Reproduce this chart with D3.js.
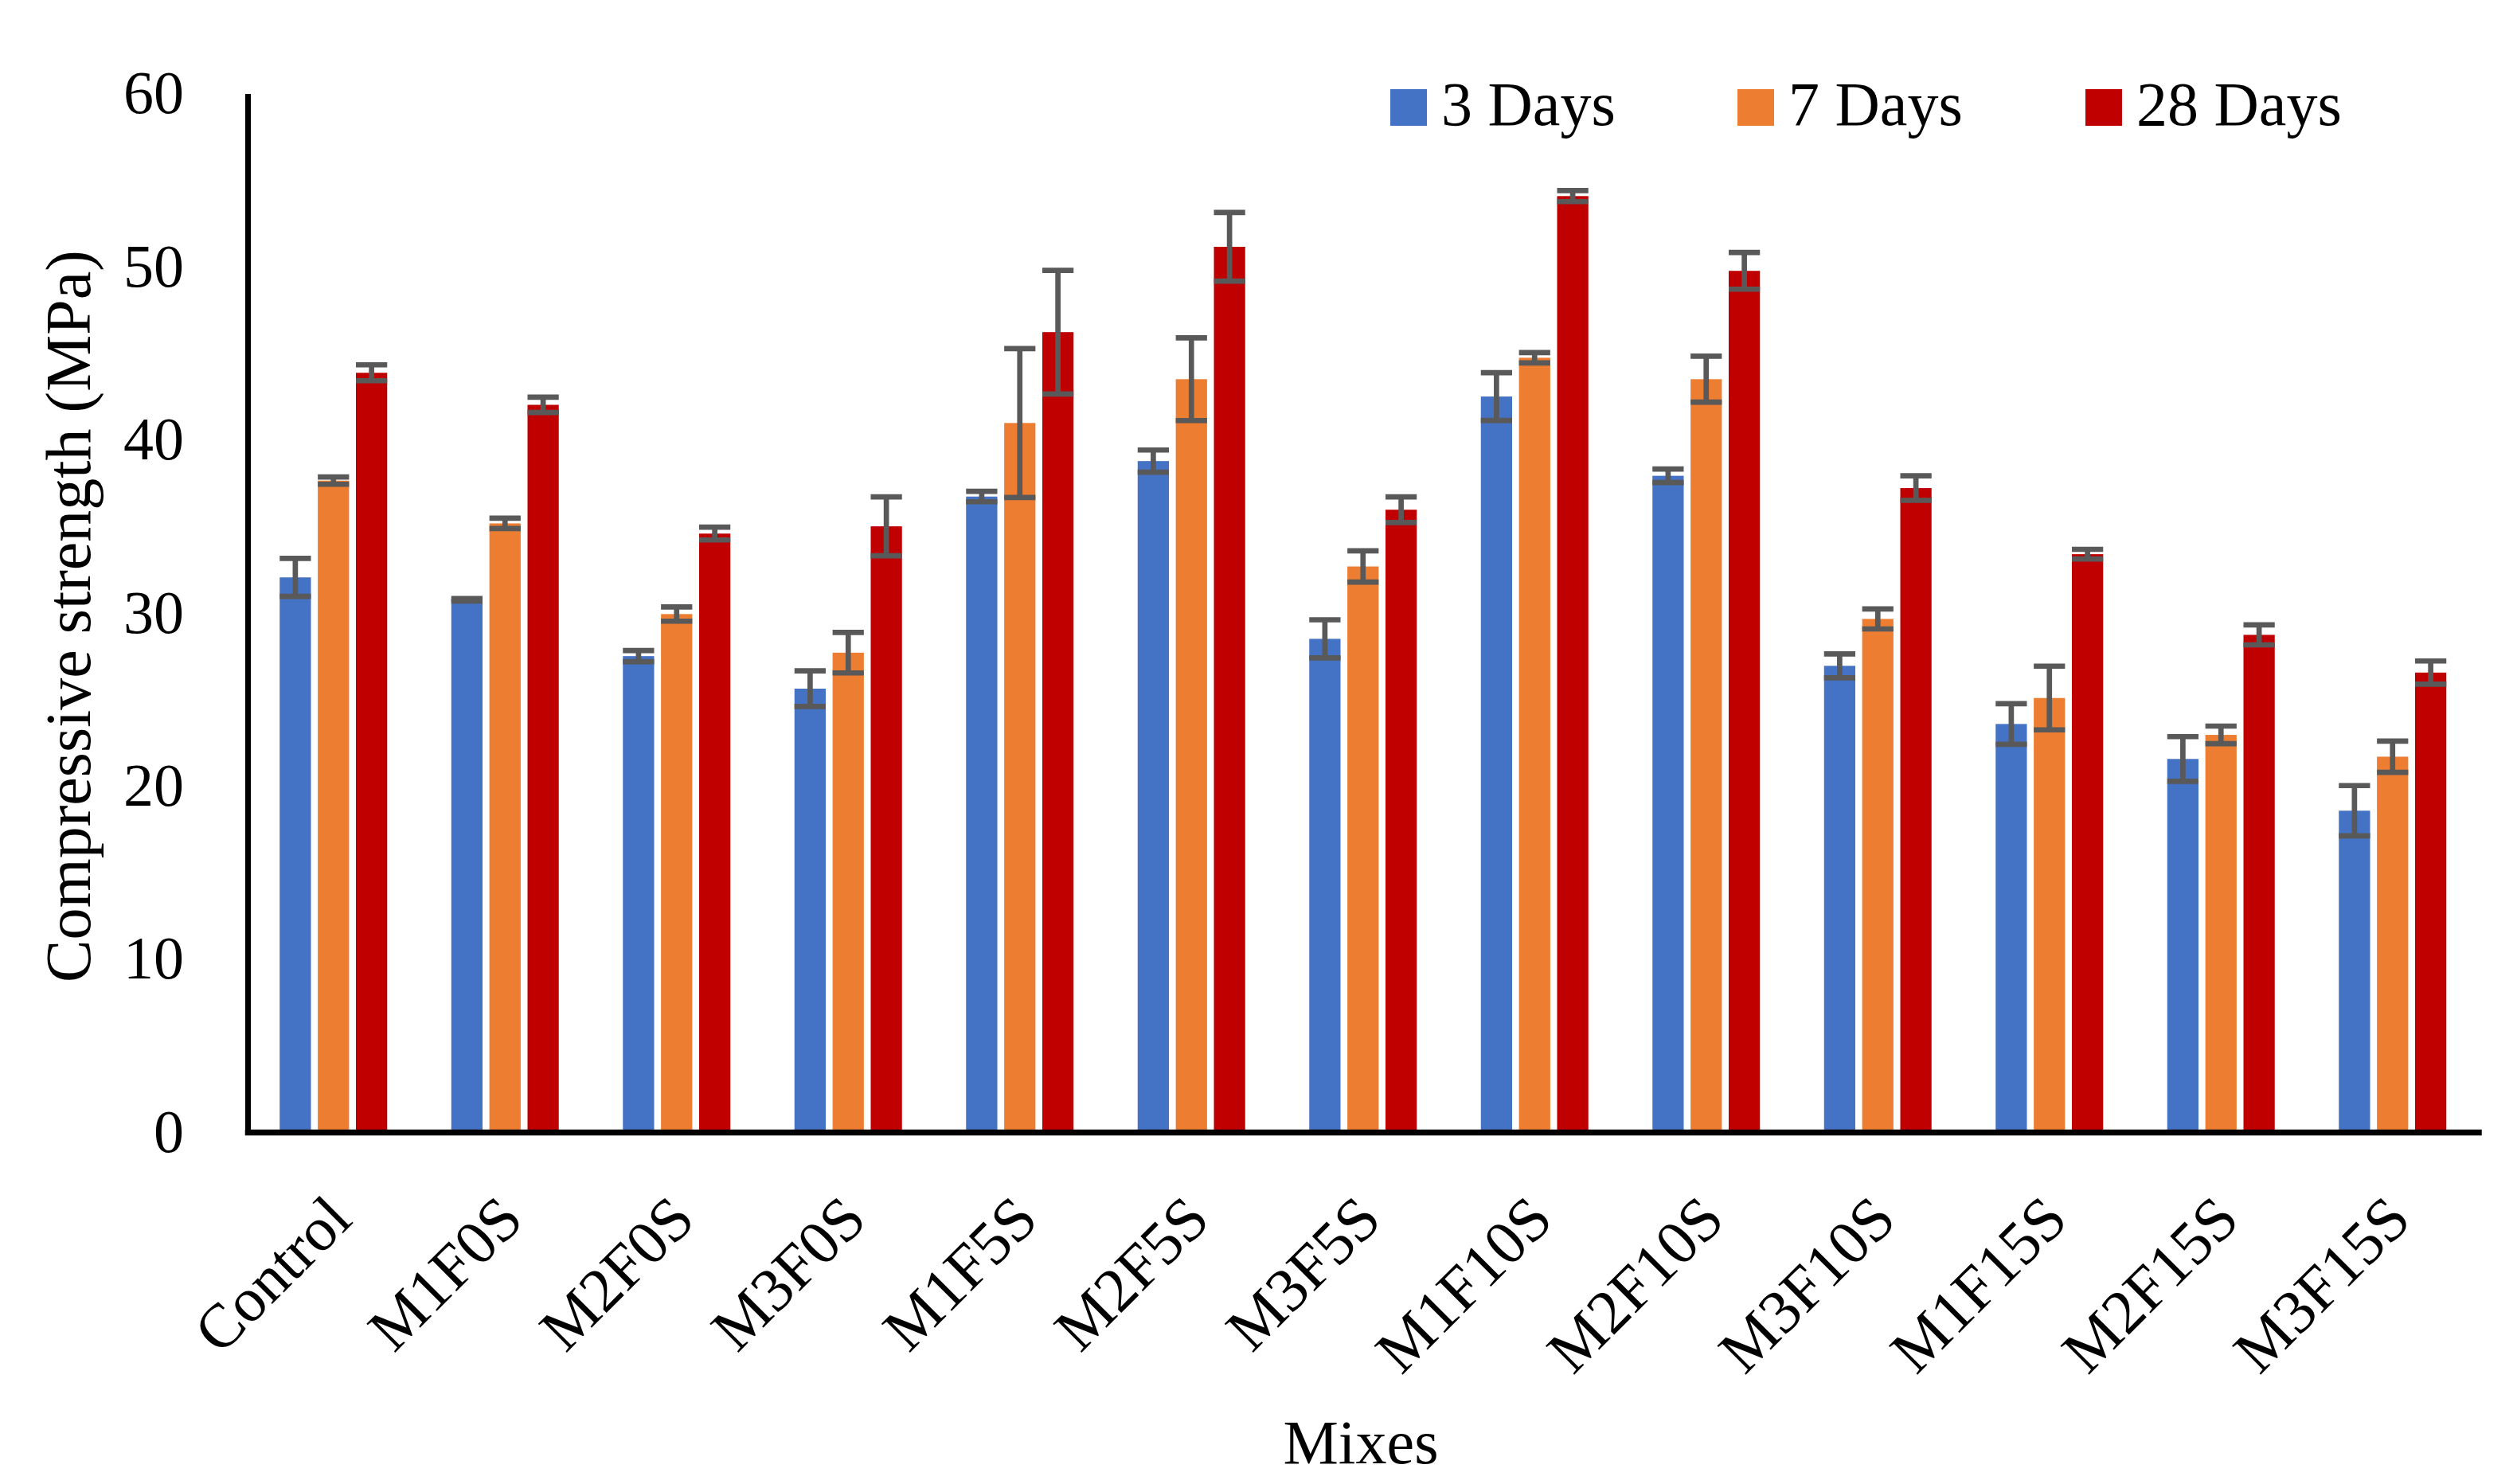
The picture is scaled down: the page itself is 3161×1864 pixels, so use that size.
<!DOCTYPE html>
<html>
<head>
	<meta charset="utf-8">
	<title>Compressive strength of mixes</title>
	<script src="https://cdn.jsdelivr.net/npm/d3@7/dist/d3.min.js"></script>
	<style>
		body { margin: 0; background: #fff; }
		svg { display: block; }
		text { font-family: "Liberation Serif", "Times New Roman", serif; fill: #000; }
	</style>
</head>
<body>
<div id="chart"></div>
<script>
// data
var mixes = ["Control", "M1F0S", "M2F0S", "M3F0S", "M1F5S", "M2F5S", "M3F5S",
	"M1F10S", "M2F10S", "M3F10S", "M1F15S", "M2F15S", "M3F15S"];
var seriesNames = ["3 Days", "7 Days", "28 Days"];

var days3  = [32.05, 30.75, 27.50, 25.62, 36.72, 38.77, 28.50, 42.50, 37.92, 26.94, 23.58, 21.56, 18.57];
var err3   = [1.10, 0.07, 0.32, 1.03, 0.30, 0.64, 1.10, 1.38, 0.39, 0.69, 1.17, 1.29, 1.45];
var days7  = [37.64, 35.17, 29.93, 27.70, 40.97, 43.50, 32.68, 44.74, 43.50, 29.65, 25.08, 22.95, 21.69];
var err7   = [0.21, 0.30, 0.41, 1.17, 4.30, 2.39, 0.90, 0.30, 1.33, 0.58, 1.84, 0.51, 0.90];
var days28 = [43.87, 42.02, 34.58, 35.00, 46.22, 51.15, 35.96, 54.08, 49.76, 37.21, 33.39, 28.73, 26.55];
var err28  = [0.46, 0.44, 0.37, 1.70, 3.57, 1.98, 0.74, 0.32, 1.06, 0.71, 0.28, 0.58, 0.67];

var yTicks = [0, 10, 20, 30, 40, 50, 60];
var colors = ["#4472C4", "#ED7D31", "#C00000"];

var values = [days3, days7, days28];
var errors = [err3, err7, err28];

//svg width and height
var width = 3161,
	height = 1864;

var svg = d3.select("#chart")
	.append("svg")
	.attr("width", width)
	.attr("height", height);

var plotLeft = 311, plotRight = 3112.5, plotTop = 117.6, plotBottom = 1422;

var y = d3.scaleLinear().domain([0, 60]).range([plotBottom, plotTop]);
var x0 = d3.scaleBand().domain(mixes).range([plotLeft, plotRight]).padding(0);
var x1 = d3.scaleBand().domain(seriesNames).range([0, 135]).paddingInner(0.18);
var groupOffset = (x0.bandwidth() - 135) / 2;

// flat list of bars
var bars = [];
mixes.forEach(function(m, i) {
	seriesNames.forEach(function(s, j) {
		bars.push({ mix: m, series: s, idx: j, value: values[j][i], err: errors[j][i] });
	});
});

var barG = svg.append("g");
barG.selectAll("rect")
	.data(bars)
	.enter().append("rect")
	.attr("x", function(d) { return x0(d.mix) + groupOffset + x1(d.series); })
	.attr("y", function(d) { return y(d.value); })
	.attr("width", x1.bandwidth())
	.attr("height", function(d) { return y(0) - y(d.value); })
	.attr("fill", function(d) { return colors[d.idx]; });

// error bars
var errG = svg.append("g")
	.attr("stroke", "#595959")
	.attr("stroke-width", 6.7)
	.attr("fill", "none");

bars.forEach(function(d) {
	var cx = x0(d.mix) + groupOffset + x1(d.series) + x1.bandwidth() / 2;
	var half = x1.bandwidth() / 2;
	var yHi = y(d.value + d.err), yLo = y(d.value - d.err);
	errG.append("line").attr("x1", cx).attr("x2", cx).attr("y1", yHi).attr("y2", yLo);
	errG.append("line").attr("x1", cx - half).attr("x2", cx + half).attr("y1", yHi).attr("y2", yHi);
	errG.append("line").attr("x1", cx - half).attr("x2", cx + half).attr("y1", yLo).attr("y2", yLo);
});

// y axis
var yAxis = svg.append("g")
	.attr("transform", "translate(" + plotLeft + ",0)")
	.call(d3.axisLeft(y).tickValues(yTicks).tickSize(0).tickSizeOuter(0).tickPadding(80));
yAxis.select(".domain").attr("stroke", "#000").attr("stroke-width", 7);
yAxis.selectAll("text")
	.attr("font-family", "Liberation Serif, serif")
	.attr("font-size", 76)
	.attr("dy", "0.32em");

// x axis
var xAxis = svg.append("g")
	.attr("transform", "translate(0," + plotBottom + ")")
	.call(d3.axisBottom(x0).tickSize(0).tickSizeOuter(0));
xAxis.select(".domain").attr("stroke", "#000").attr("stroke-width", 7.5)
	.attr("stroke-linecap", "square");
xAxis.selectAll("text")
	.attr("font-family", "Liberation Serif, serif")
	.attr("font-size", 78)
	.attr("text-anchor", "end")
	.attr("y", 0)
	.attr("dy", 0)
	.attr("transform", "translate(26,113) rotate(-45)");

// axis titles
svg.append("text")
	.attr("transform", "translate(113,774) rotate(-90)")
	.attr("text-anchor", "middle")
	.attr("font-size", 80)
	.text("Compressive strength (MPa)");

svg.append("text")
	.attr("x", 1709)
	.attr("y", 1838)
	.attr("text-anchor", "middle")
	.attr("font-size", 78)
	.text("Mixes");

// legend
var legendX = [1746, 2182, 2619];
var legend = svg.append("g");
seriesNames.forEach(function(s, j) {
	legend.append("rect")
		.attr("x", legendX[j]).attr("y", 112)
		.attr("width", 46).attr("height", 46)
		.attr("fill", colors[j]);
	legend.append("text")
		.attr("x", legendX[j] + 64).attr("y", 157)
		.attr("font-size", 78)
		.text(s);
});
</script>
</body>
</html>
